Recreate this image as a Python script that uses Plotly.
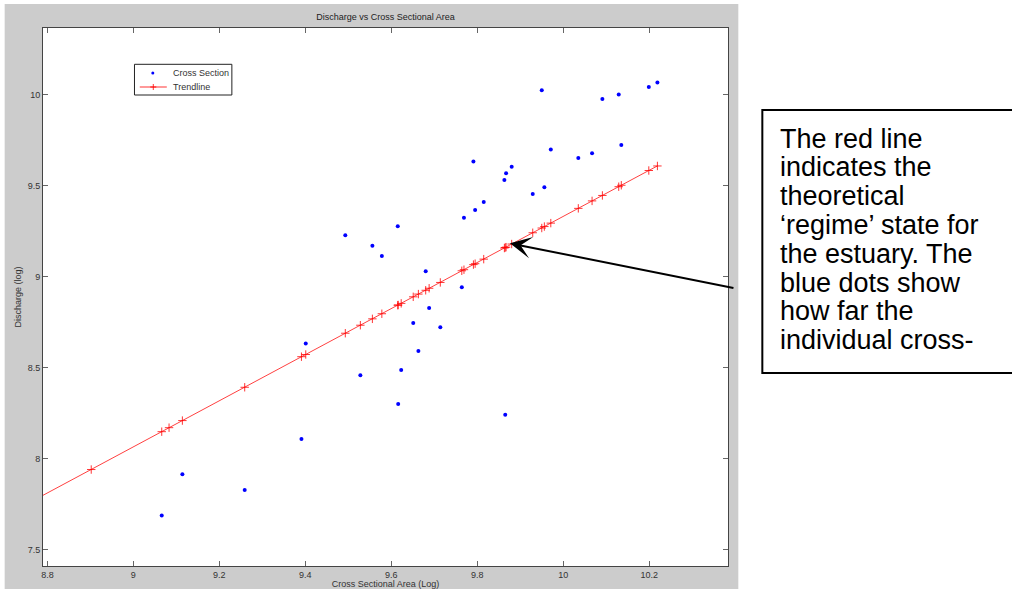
import plotly.graph_objects as go

# Cross-section data (log area, log discharge)
area_log = [9.066, 9.114, 9.259, 9.391, 9.401, 9.493, 9.556, 9.578, 9.615, 9.528,
            9.623, 9.616, 9.651, 9.663, 9.680, 9.688, 9.714, 9.764, 9.769, 9.795,
            9.815, 9.791, 9.863, 9.867, 9.880, 9.865, 9.929, 9.956, 9.971, 9.950,
            10.035, 10.067, 10.091, 10.129, 10.135, 10.199, 10.219]
discharge_log = [7.689, 7.916, 7.830, 8.110, 8.634, 9.229, 9.172, 9.115, 9.279, 8.460,
                 8.489, 8.302, 8.747, 8.593, 9.031, 8.830, 8.724, 8.943, 9.326, 9.368,
                 9.412, 9.634, 9.533, 9.570, 9.606, 8.243, 9.456, 9.493, 9.701, 10.026,
                 9.654, 9.680, 9.978, 10.002, 9.725, 10.044, 10.068]

# Trendline points
trend_x = [8.750, 8.902, 9.066, 9.083, 9.114, 9.259, 9.391, 9.401, 9.493, 9.528,
           9.556, 9.578, 9.615, 9.616, 9.623, 9.651, 9.663, 9.680, 9.688, 9.714,
           9.764, 9.769, 9.791, 9.795, 9.815, 9.863, 9.865, 9.867, 9.880, 9.929,
           9.950, 9.956, 9.971, 10.035, 10.067, 10.091, 10.129, 10.135, 10.199, 10.219]
trend_y = [7.750, 7.942, 8.150, 8.172, 8.211, 8.394, 8.562, 8.574, 8.691, 8.735,
           8.770, 8.798, 8.845, 8.846, 8.855, 8.891, 8.906, 8.927, 8.938, 8.970,
           9.034, 9.040, 9.068, 9.073, 9.098, 9.159, 9.162, 9.164, 9.181, 9.243,
           9.269, 9.277, 9.296, 9.377, 9.418, 9.448, 9.496, 9.504, 9.585, 9.610]

x_ticks = [8.8, 9, 9.2, 9.4, 9.6, 9.8, 10, 10.2]
x_tick_labels = ["8.8", "9", "9.2", "9.4", "9.6", "9.8", "10", "10.2"]
y_ticks = [7.5, 8, 8.5, 9, 9.5, 10]
y_tick_labels = ["7.5", "8", "8.5", "9", "9.5", "10"]

series_names = ["Cross Section", "Trendline"]

note_lines = ["The red line", "indicates the", "theoretical", "\u2018regime\u2019 state for",
              "the estuary. The", "blue dots show", "how far the", "individual cross-"]

FONT = "Liberation Sans, Arial, sans-serif"
W, H = 1012, 589
L, R, T, B = 43.3, 727.7, 28.0, 566.0


def px_x(p):
    return (p - L) / (R - L)


def px_y(p):
    return 1 - (p - T) / (B - T)


fig = go.Figure()
fig.add_trace(go.Scatter(
    x=area_log, y=discharge_log, mode="markers", name=series_names[0], showlegend=False,
    marker=dict(color="#0000ff", size=4, line=dict(width=0)),
))
fig.add_trace(go.Scatter(
    x=trend_x, y=trend_y, mode="lines+markers", name=series_names[1], showlegend=False,
    line=dict(color="rgba(255,0,0,0.75)", width=1),
    marker=dict(symbol="cross-thin", size=6, color="red",
                line=dict(color="rgba(255,0,0,0.8)", width=1)),
))

axis_common = dict(
    showgrid=False, zeroline=False, showline=True, linecolor="#444", linewidth=1,
    mirror="ticks", ticks="inside", ticklen=5, tickcolor="#666", tickwidth=1,
    tickfont=dict(family=FONT, size=9, color="#333"), automargin=False,
)
fig.update_xaxes(range=[8.7898, 10.3832], tickvals=x_ticks, ticktext=x_tick_labels,
                 title=dict(text="Cross Sectional Area (Log)", font=dict(family=FONT, size=9, color="#333"), standoff=2),
                 **axis_common)
fig.update_yaxes(range=[7.412, 10.368], tickvals=y_ticks, ticktext=y_tick_labels,
                 title=dict(text="Discharge (log)", font=dict(family=FONT, size=9, color="#333"), standoff=4),
                 **axis_common)

shapes = [
    # MATLAB figure background
    dict(type="rect", xref="paper", yref="paper", x0=px_x(5), x1=px_x(738), y0=px_y(600), y1=px_y(4),
         fillcolor="#cccccc", line=dict(width=0), layer="below"),
    dict(type="rect", xref="paper", yref="paper", x0=0, x1=1, y0=0, y1=1,
         fillcolor="white", line=dict(width=0), layer="below"),
    # legend box
    dict(type="rect", xref="paper", yref="paper", x0=px_x(134.7), x1=px_x(232), y0=px_y(95), y1=px_y(64.3),
         fillcolor="white", line=dict(color="#222", width=1)),
    # legend glyph: blue dot
    dict(type="circle", xref="paper", yref="paper", x0=px_x(151.5), x1=px_x(154.5), y0=px_y(74.5), y1=px_y(71.5),
         fillcolor="#0000ff", line=dict(width=0)),
    # legend glyph: red line with plus
    dict(type="line", xref="paper", yref="paper", x0=px_x(140), x1=px_x(167), y0=px_y(87), y1=px_y(87),
         line=dict(color="rgba(255,0,0,0.8)", width=1)),
    dict(type="line", xref="paper", yref="paper", x0=px_x(153.5), x1=px_x(153.5), y0=px_y(90), y1=px_y(84),
         line=dict(color="rgba(255,0,0,0.8)", width=1)),
    dict(type="line", xref="paper", yref="paper", x0=px_x(150.5), x1=px_x(156.5), y0=px_y(87), y1=px_y(87),
         line=dict(color="rgba(255,0,0,0.9)", width=1)),
    # note box (open on the right, running off the page)
    dict(type="line", xref="paper", yref="paper", x0=px_x(762), x1=px_x(1012), y0=px_y(110), y1=px_y(110),
         line=dict(color="black", width=2)),
    dict(type="line", xref="paper", yref="paper", x0=px_x(762), x1=px_x(1012), y0=px_y(373), y1=px_y(373),
         line=dict(color="black", width=2)),
    dict(type="line", xref="paper", yref="paper", x0=px_x(762), x1=px_x(762), y0=px_y(374), y1=px_y(109),
         line=dict(color="black", width=2)),
]

annotations = [
    dict(xref="paper", yref="paper", x=px_x(171), y=px_y(73), xanchor="left", yanchor="middle",
         text=series_names[0], showarrow=False, font=dict(family=FONT, size=9, color="#333")),
    dict(xref="paper", yref="paper", x=px_x(171), y=px_y(87), xanchor="left", yanchor="middle",
         text=series_names[1], showarrow=False, font=dict(family=FONT, size=9, color="#333")),
    dict(xref="x", yref="y", x=9.876, y=9.185, text="", showarrow=True,
         axref="pixel", ayref="pixel", ax=225, ay=45,
         arrowhead=3, arrowsize=1.8, arrowwidth=2, arrowcolor="black"),
]

NOTE_SIZE = 27
for i, line in enumerate(note_lines):
    baseline = 148 + 28.8 * i
    annotations.append(dict(
        xref="paper", yref="paper", x=px_x(778), y=px_y(baseline - 0.35 * NOTE_SIZE),
        xanchor="left", yanchor="middle", text=line, showarrow=False, align="left",
        font=dict(family=FONT, size=NOTE_SIZE, color="black")))

fig.update_layout(
    width=W, height=H, autosize=False,
    margin=dict(l=L, r=W - R, t=T, b=H - B, pad=0),
    paper_bgcolor="white", plot_bgcolor="white",
    title=dict(text="Discharge vs Cross Sectional Area", x=(L + R) / 2 / W, xanchor="center",
               y=1 - 17 / H, yanchor="middle", font=dict(family=FONT, size=9, color="#222")),
    showlegend=False,
    shapes=shapes, annotations=annotations,
)

fig.write_html("out.html", config={"displayModeBar": False},
               post_script="document.body.style.margin='0px';document.body.style.padding='0px';")
